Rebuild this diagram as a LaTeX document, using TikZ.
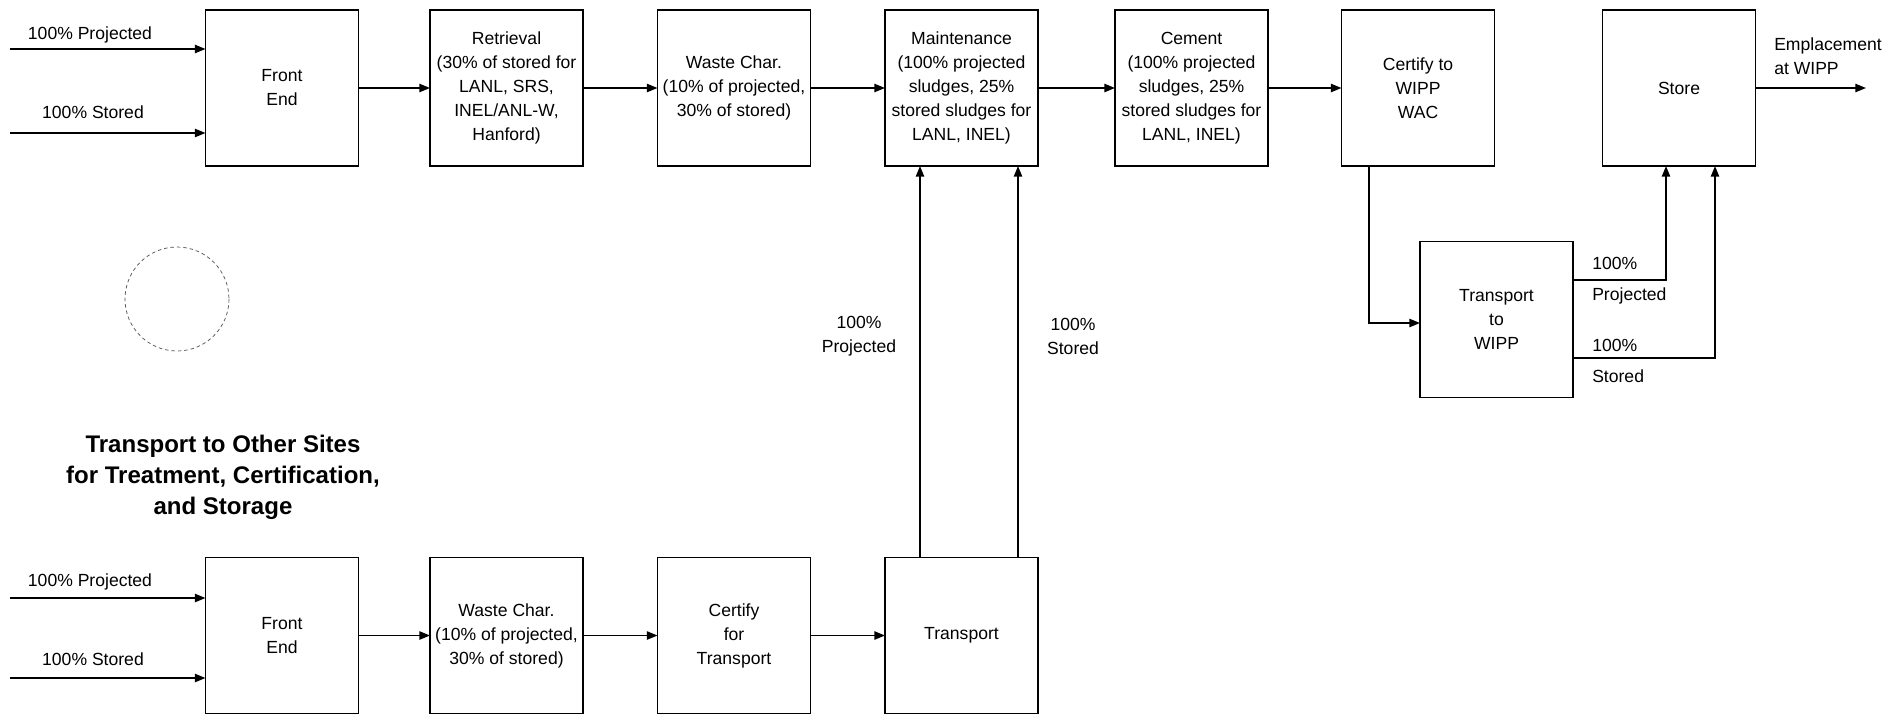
\documentclass[tikz,border=0pt]{standalone}
\usepackage{fontspec}
\setmainfont{Liberation Sans}
\usetikzlibrary{arrows.meta}
\begin{document}
\begin{tikzpicture}[x=0.03cm,y=-0.03cm,
  box/.style={draw, line width=1.4pt, minimum width=4.59cm, minimum height=4.68cm, inner sep=0pt, outer sep=0pt, align=center, font=\fontsize{15}{20.5}\selectfont},
  arr/.style={line width=1.4pt, -{Triangle[length=9pt,width=7pt]}},
  lbl/.style={font=\fontsize{15}{20.5}\selectfont, inner sep=0pt, align=center},
  lbll/.style={font=\fontsize{15}{20.5}\selectfont, inner sep=0pt, align=left},
  ttl/.style={font=\fontsize{20.5}{26.5}\selectfont\bfseries, inner sep=0pt, align=center}]
\useasboundingbox (0,0) rectangle (1889,717);

% top row
\node[box] (fe1) at (282,88) {Front\\End};
\node[box] (ret) at (506.5,88) {Retrieval\\(30\% of stored for\\LANL, SRS,\\INEL/ANL-W,\\Hanford)};
\node[box] (wc1) at (734,88) {Waste Char.\\(10\% of projected,\\30\% of stored)};
\node[box] (mnt) at (961.5,88) {Maintenance\\(100\% projected\\sludges, 25\%\\stored sludges for\\LANL, INEL)};
\node[box] (cem) at (1191.5,88) {Cement\\(100\% projected\\sludges, 25\%\\stored sludges for\\LANL, INEL)};
\node[box] (cwac) at (1418,88) {Certify to\\WIPP\\WAC};
\node[box] (sto) at (1679,88) {Store};
\node[box] (twipp) at (1496.5,319.5) {Transport\\to\\WIPP};

% bottom row
\node[box] (fe2) at (282,635.5) {Front\\End};
\node[box] (wc2) at (506.5,635.5) {Waste Char.\\(10\% of projected,\\30\% of stored)};
\node[box] (cft) at (734,635.5) {Certify\\for\\Transport};
\node[box] (trn) at (961.5,635.5) {Transport};

% inputs top
\coordinate (i1) at (10,49);
\coordinate (i2) at (10,133);
\draw[arr] (i1) -- (i1 -| fe1.west);
\draw[arr] (i2) -- (i2 -| fe1.west);
\node[lbl] (li1) at (90,35) {100\% Projected};
\node[lbl] (li2) at (93,112) {100\% Stored};

% inputs bottom
\coordinate (j1) at (10,598);
\coordinate (j2) at (10,678);
\draw[arr] (j1) -- (j1 -| fe2.west);
\draw[arr] (j2) -- (j2 -| fe2.west);
\node[lbl] (lj1) at (90,582) {100\% Projected};
\node[lbl] (lj2) at (93,659) {100\% Stored};

% flow top
\draw[arr] (fe1) -- (ret);
\draw[arr] (ret) -- (wc1);
\draw[arr] (wc1) -- (mnt);
\draw[arr] (mnt) -- (cem);
\draw[arr] (cem) -- (cwac);
\coordinate (out) at (1866,88);
\draw[arr] (sto.east) -- (out);
\node[lbll, anchor=west] (lout) at (1774,56) {Emplacement\\at WIPP};

% flow bottom
\draw[arr] (fe2) -- (wc2);
\draw[arr] (wc2) -- (cft);
\draw[arr] (cft) -- (trn);

% transport to maintenance
\coordinate (m1) at (920,0);
\coordinate (m2) at (1018,0);
\draw[arr] (m1 |- trn.north) -- (m1 |- mnt.south);
\draw[arr] (m2 |- trn.north) -- (m2 |- mnt.south);
\node[lbl] (lm1) at (859,336) {100\%\\Projected};
\node[lbl] (lm2) at (1073,336) {100\%\\Stored};

% certify -> transport to WIPP
\coordinate (c1) at (1369,323);
\draw[arr] (c1 |- cwac.south) -- (c1) -- (c1 -| twipp.west);

% transport to WIPP -> store
\coordinate (p1) at (1666,280);
\coordinate (s1) at (1715,358);
\draw[arr] (p1 -| twipp.east) -- (p1) -- (p1 |- sto.south);
\draw[arr] (s1 -| twipp.east) -- (s1) -- (s1 |- sto.south);
\node[lbll, anchor=west] (lp1) at (1592,263) {100\%};
\node[lbll, anchor=west] (lp2) at (1592,296) {Projected};
\node[lbll, anchor=west] (ls1) at (1592,345) {100\%};
\node[lbll, anchor=west] (ls2) at (1592,376) {Stored};

% title
\node[ttl] (title) at (223,477) {Transport to Other Sites\\for Treatment, Certification,\\and Storage};

% seal
\draw[line width=0.6pt, dash pattern=on 3pt off 2.5pt, black!70] (177,299) circle[radius=52];
\end{tikzpicture}
\end{document}
